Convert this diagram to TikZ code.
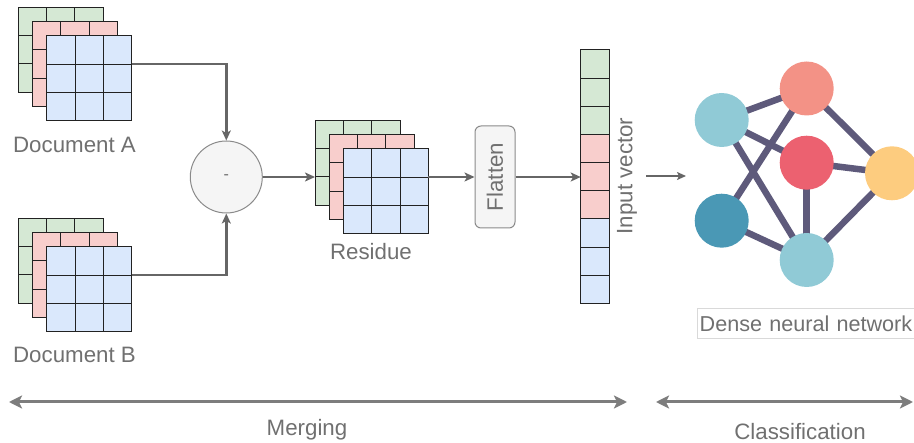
\documentclass[tikz,border=0pt]{standalone}
\usepackage{fontspec}
\setmainfont{Liberation Sans}
\usetikzlibrary{arrows.meta,backgrounds,calc}
\definecolor{cg}{HTML}{D5E8D4}
\definecolor{cr}{HTML}{F8CECC}
\definecolor{cb}{HTML}{DAE8FC}
\definecolor{gl}{HTML}{222222}
\definecolor{conn}{HTML}{666666}
\definecolor{txt}{HTML}{707070}
\definecolor{boxfill}{HTML}{F5F5F5}
\definecolor{boxline}{HTML}{8A8A8A}
\definecolor{nnlight}{HTML}{90CAD6}
\definecolor{nnsalmon}{HTML}{F39286}
\definecolor{nnred}{HTML}{EC6170}
\definecolor{nnyellow}{HTML}{FDCC7F}
\definecolor{nndark}{HTML}{4A98B5}
\definecolor{nnedge}{HTML}{5E5A7B}
\newcommand\gridlayer[4]{%
  \node[layer,fill=#4] (#1) at (#2,#3) {};
  \foreach \k in {1,2} {%
    \draw[gline] ([xshift=\k*28.33pt]#1.north west) -- ([xshift=\k*28.33pt]#1.south west);
    \draw[gline] ([yshift=-\k*28.33pt]#1.north west) -- ([yshift=-\k*28.33pt]#1.north east);
  }%
}
\begin{document}
\begin{tikzpicture}[x=1pt,y=-1pt,
  lbl/.style={font=\fontsize{22.3pt}{26pt}\selectfont, text=txt, inner sep=0pt},
  layer/.style={draw=gl, line width=1pt, minimum size=85pt, inner sep=0pt, outer sep=0pt, anchor=north west},
  gline/.style={draw=gl, line width=1pt},
  cell/.style={draw=gl, line width=1pt},
  connector/.style={draw=conn, line width=2.4pt, -{Stealth[length=10pt,width=9pt,inset=2.5pt]}},
  span/.style={draw=conn!85, line width=3pt, {Stealth[length=13pt,width=13pt,inset=3pt]}-{Stealth[length=13pt,width=13pt,inset=3pt]}},
  neuron/.style={circle, minimum size=54pt, inner sep=0pt, draw=none},
  nnlink/.style={draw=nnedge, line width=6.5pt}
]
\useasboundingbox (0,0) rectangle (914,443);
\clip (0,0) rectangle (914,443);

% Document A
\gridlayer{docAg}{18.3}{7.3}{cg}
\gridlayer{docAr}{32.5}{21.5}{cr}
\gridlayer{docAb}{46.7}{35.7}{cb}
\node[lbl] (labA) at (74.5,145) {Document A};

% Document B
\gridlayer{docBg}{18.3}{218.3}{cg}
\gridlayer{docBr}{32.5}{232.5}{cr}
\gridlayer{docBb}{46.7}{246.7}{cb}
\node[lbl] (labB) at (74.5,355) {Document B};

% subtraction
\node[circle, draw=boxline, fill=boxfill, line width=1pt, minimum size=72pt, inner sep=0pt,
      font=\fontsize{16pt}{18pt}\selectfont, text=txt] (minus) at (226.3,177) {-};

% residue
\gridlayer{resg}{315}{120.3}{cg}
\gridlayer{resr}{329.2}{134.5}{cr}
\gridlayer{resb}{343.4}{148.7}{cb}
\node[lbl] (labR) at (371,252) {Residue};

% flatten
\node[draw=boxline, fill=boxfill, line width=1pt, rounded corners=6pt, minimum width=40pt,
      minimum height=102pt, inner sep=0pt, lbl] (flat) at (495,177) {\rotatebox{90}{Flatten}};

% input vector
\foreach \i/\c in {0/cg,1/cg,2/cg,3/cr,4/cr,5/cr,6/cb,7/cb,8/cb}
  \draw[cell, fill=\c] (580.7,50+\i*28.15) rectangle ++(28.3,28.15);
\node[inner sep=0pt, outer sep=0pt, minimum width=28.3pt, minimum height=253.3pt, anchor=north west] (vec) at (580.7,50) {};
\node[lbl, rotate=90] (labV) at (627,176) {Input vector};

% connectors
\draw[connector] ([yshift=-28.33pt]docAb.north east) -| (minus.north);
\draw[connector] ([yshift=-28.33pt]docBb.north east) -| (minus.south);
\draw[connector] (minus.east) -- (minus.east -| resg.west);
\draw[connector] (flat.west -| resb.east) -- (flat.west);
\draw[connector] (flat.east) -- (flat.east -| vec.west);

% small arrow to network
\coordinate (sa) at (646,176);
\coordinate (sb) at (686,176);
\draw[draw=conn, line width=1.6pt, -{Stealth[length=9pt,width=8pt,inset=2pt]}] (sa) -- (sb);

% neural network
\node[neuron, fill=nnlight]  (n1) at (721.7,120) {};
\node[neuron, fill=nnsalmon] (n2) at (806.7,88.5) {};
\node[neuron, fill=nnred]    (n3) at (806.7,162.7) {};
\node[neuron, fill=nnyellow] (n4) at (892,173.3) {};
\node[neuron, fill=nndark]   (n5) at (721.7,220.7) {};
\node[neuron, fill=nnlight]  (n6) at (806.7,260) {};
\begin{scope}[on background layer]
  \draw[nnlink] (n1.center) -- (n2.center);
  \draw[nnlink] (n1.center) -- (n3.center);
  \draw[nnlink] (n1.center) -- (n6.center);
  \draw[nnlink] (n5.center) -- (n2.center);
  \draw[nnlink] (n5.center) -- (n6.center);
  \draw[nnlink] (n2.center) -- (n4.center);
  \draw[nnlink] (n3.center) -- (n4.center);
  \draw[nnlink] (n3.center) -- (n6.center);
  \draw[nnlink] (n4.center) -- (n6.center);
\end{scope}
\node[lbl, font=\fontsize{21.6pt}{26pt}\selectfont, draw=black!15, line width=0.8pt, anchor=west,
      inner xsep=2pt, text width=220pt, minimum height=30pt] (labN) at (697.3,323.3) {Dense neural network};

% bottom spans
\coordinate (m1) at (9,402);
\coordinate (m2) at (627,402);
\coordinate (c1) at (656,402);
\coordinate (c2) at (913,402);
\draw[span] (m1) -- (m2);
\draw[span] (c1) -- (c2);
\node[lbl] (labM) at (307,430) {Merging};
\node[lbl] (labC) at (800,432) {Classification};
\end{tikzpicture}
\end{document}
